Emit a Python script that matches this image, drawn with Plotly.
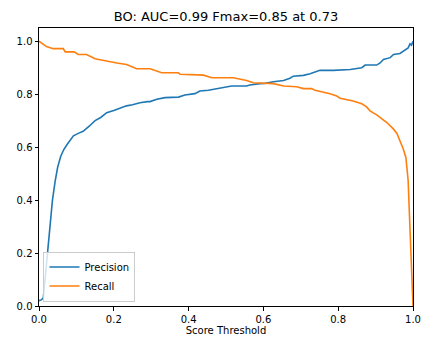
import plotly.graph_objects as go

# Precision curve (threshold, value)
prec_thr = [0.0, 0.006, 0.0115, 0.02, 0.029, 0.036, 0.043, 0.05, 0.058, 0.066, 0.075, 0.083, 0.092,
            0.105, 0.118, 0.135, 0.15, 0.165, 0.181, 0.2, 0.215, 0.234, 0.25, 0.27, 0.29, 0.297, 0.315,
            0.337, 0.373, 0.39, 0.417, 0.43, 0.453, 0.484, 0.515, 0.555, 0.564, 0.591, 0.604,
            0.627, 0.654, 0.671, 0.68, 0.707, 0.725, 0.751, 0.787, 0.832, 0.863, 0.872, 0.903,
            0.912, 0.921, 0.939, 0.948, 0.965, 0.979, 0.987, 0.992, 0.996, 1.0]
prec_val = [0.02, 0.023, 0.03, 0.16, 0.317, 0.40, 0.47, 0.525, 0.565, 0.59, 0.61, 0.624, 0.643,
            0.652, 0.66, 0.68, 0.70, 0.712, 0.73, 0.738, 0.745, 0.756, 0.76, 0.768, 0.772, 0.772, 0.781,
            0.787, 0.789, 0.797, 0.802, 0.812, 0.815, 0.822, 0.831, 0.831, 0.835, 0.84, 0.841,
            0.847, 0.852, 0.86, 0.868, 0.871, 0.877, 0.89, 0.89, 0.893, 0.90, 0.91, 0.91,
            0.918, 0.931, 0.938, 0.95, 0.954, 0.969, 0.975, 0.99, 0.985, 1.0]

# Recall curve (threshold, value)
rec_thr = [0.0, 0.01, 0.02, 0.038, 0.065, 0.07, 0.094, 0.105, 0.127, 0.15, 0.181, 0.208, 0.234,
           0.261, 0.297, 0.328, 0.373, 0.377, 0.44, 0.462, 0.52, 0.555, 0.573, 0.6, 0.627,
           0.654, 0.689, 0.707, 0.729, 0.738, 0.778, 0.796, 0.805, 0.84, 0.863, 0.876, 0.885,
           0.903, 0.916, 0.93, 0.948, 0.957, 0.965, 0.974, 0.981, 0.984, 0.987, 0.992, 0.996, 1.0]
rec_val = [1.0, 0.99, 0.98, 0.972, 0.972, 0.96, 0.96, 0.95, 0.95, 0.934, 0.927, 0.918, 0.912,
           0.896, 0.896, 0.881, 0.881, 0.875, 0.872, 0.862, 0.862, 0.852, 0.843, 0.841, 0.84,
           0.831, 0.828, 0.821, 0.821, 0.815, 0.802, 0.793, 0.785, 0.774, 0.764, 0.752, 0.737,
           0.722, 0.709, 0.693, 0.668, 0.652, 0.624, 0.593, 0.561, 0.52, 0.474, 0.29, 0.1, 0.0]

tick_vals = [0.0, 0.2, 0.4, 0.6, 0.8, 1.0]
tick_text = ["0.0", "0.2", "0.4", "0.6", "0.8", "1.0"]

font = dict(family="DejaVu Sans", size=10, color="black")

fig = go.Figure()
fig.add_trace(go.Scatter(x=prec_thr, y=prec_val, mode="lines", name="Precision",
                         line=dict(color="#1f77b4", width=1.6)))
fig.add_trace(go.Scatter(x=rec_thr, y=rec_val, mode="lines", name="Recall",
                         line=dict(color="#ff7f0e", width=1.6)))

axis_common = dict(showline=True, linecolor="black", linewidth=1, mirror=True,
                   ticks="outside", ticklen=3.5, tickwidth=1, tickcolor="black",
                   showgrid=False, zeroline=False, tickfont=font, automargin=False,
                   tickvals=tick_vals, ticktext=tick_text)

fig.update_layout(
    width=422, height=338,
    margin=dict(l=39, r=9, t=28, b=32),
    paper_bgcolor="white", plot_bgcolor="white",
    font=font,
    title=dict(text="BO: AUC=0.99 Fmax=0.85 at 0.73", x=(39 + 413) / 2 / 422, xanchor="center",
               y=1 - 16 / 338, yanchor="middle", automargin=False,
               font=dict(family="DejaVu Sans", size=13, color="black")),
    xaxis=dict(range=[0, 1], title=dict(text="Score Threshold", font=font, standoff=3), **axis_common),
    yaxis=dict(range=[0, 1.05], **axis_common),
    legend=dict(x=0.012, y=0.016, xanchor="left", yanchor="bottom",
                bgcolor="rgba(255,255,255,0.8)", bordercolor="#cccccc", borderwidth=1,
                font=dict(family="DejaVu Sans", size=10, color="black"),
                tracegroupgap=0, itemwidth=30),
    showlegend=True,
)

fig.write_html("out.html", config={"displayModeBar": False},
               post_script="document.body.style.margin='0';document.body.style.padding='0';")
